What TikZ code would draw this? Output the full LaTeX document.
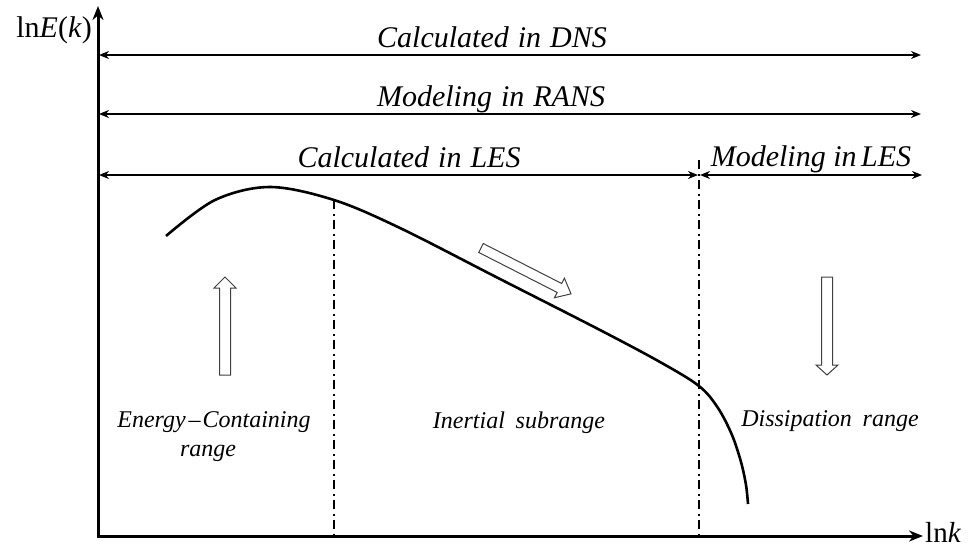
\documentclass[tikz,border=0pt]{standalone}
\usepackage{fontspec}
\setmainfont{Liberation Serif}
\usetikzlibrary{arrows.meta}
\begin{document}
\begin{tikzpicture}[x=1pt,y=-1pt,
  axisline/.style={line width=3pt,-{Stealth[length=14pt,width=11pt]}},
  rangearrow/.style={line width=2pt,{Stealth[length=10pt,width=8pt]}-{Stealth[length=10pt,width=8pt]}},
  divline/.style={line width=1.9pt,dash pattern=on 9pt off 4.5pt on 2pt off 4.5pt},
  spectrum/.style={line width=2.6pt},
  hollow/.style={draw=black!75,line width=1pt,fill=white,line join=miter},
  toplabel/.style={font=\fontsize{30}{33}\selectfont\itshape,anchor=base,inner sep=0pt},
  reglabel/.style={font=\fontsize{24}{27}\selectfont\itshape,anchor=base,inner sep=0pt},
  axlabel/.style={font=\fontsize{30}{33}\selectfont,inner sep=0pt}]
\useasboundingbox (0,0) rectangle (975,547);
% axes
\coordinate (O) at (98,536);
\coordinate (Ytop) at (98,6);
\coordinate (Xend) at (923,536);
\draw[axisline] (O) -- (Ytop);
\draw[axisline] ([xshift=-1.5pt]O) -- (Xend);
\node[axlabel,anchor=base east] (ylab) at (92,37) {ln\textit{E}(\textit{k})};
\node[axlabel,font=\fontsize{29}{32}\selectfont,anchor=base west] (xlab) at (925,542) {ln\textit{k}};
% range arrows
\coordinate (dnsL) at (99,55);  \coordinate (dnsR) at (921,55);
\coordinate (ransL) at (99,114); \coordinate (ransR) at (921,114);
\coordinate (lesL) at (99,175); \coordinate (lesM) at (698,175);
\coordinate (lesM2) at (700,175); \coordinate (lesR) at (922,175);
\draw[rangearrow] (dnsL) -- (dnsR);
\draw[rangearrow] (ransL) -- (ransR);
\draw[rangearrow] (lesL) -- (lesM);
\draw[rangearrow] (lesM2) -- (lesR);
\node[toplabel] (dns) at (492,47) {Calculated\hspace{0.3em}in\hspace{0.3em}DNS};
\node[toplabel] (rans) at (491,106) {Modeling\hspace{0.3em}in\hspace{0.3em}RANS};
\node[toplabel] (lescalc) at (409,167) {Calculated\hspace{0.3em}in\hspace{0.3em}LES};
\node[toplabel] (lesmod) at (811,166) {Modeling\hspace{0.25em}in\hspace{0.15em}LES};
% dividing lines
\coordinate (d1top) at (334,200); \coordinate (d1bot) at (334,535);
\coordinate (d2top) at (699,160); \coordinate (d2bot) at (699,535);
\draw[divline] (d1top) -- (d1bot);
\draw[divline] (d2top) -- (d2bot);
% spectrum curve
\draw[spectrum,line cap=butt] plot[smooth,tension=0.55] coordinates {
  (166,236) (215,200) (270,187) (334,200) (400,228) (500,279) (600,330)
  (660,362) (699,386) (718,408) (732,435) (741,462) (746,485) (748,504)};
% hollow arrows
\draw[hollow] (219.5,375) -- (230.5,375) -- (230.5,288) -- (236,288) -- (225,277)
  -- (214,288) -- (219.5,288) -- cycle;
\draw[hollow] (821.5,277) -- (832.5,277) -- (832.5,365) -- (838,365) -- (827,375)
  -- (816,365) -- (821.5,365) -- cycle;
\begin{scope}[shift={(481,248)},rotate=-27]
\draw[hollow] (0,-5) -- (88,-5) -- (88,-11) -- (101,0) -- (88,11) -- (88,5) -- (0,5) -- cycle;
\end{scope}
% region labels
\node[reglabel] (energy) at (214,427) {Energy\hspace{0.12em}–\hspace{0.08em}Containing};
\node[reglabel] (energy2) at (208,456) {range};
\node[reglabel] (inertial) at (519,428) {Inertial\hspace{0.45em}subrange};
\node[reglabel] (diss) at (830,426) {Dissipation\hspace{0.45em}range};
\end{tikzpicture}
\end{document}
